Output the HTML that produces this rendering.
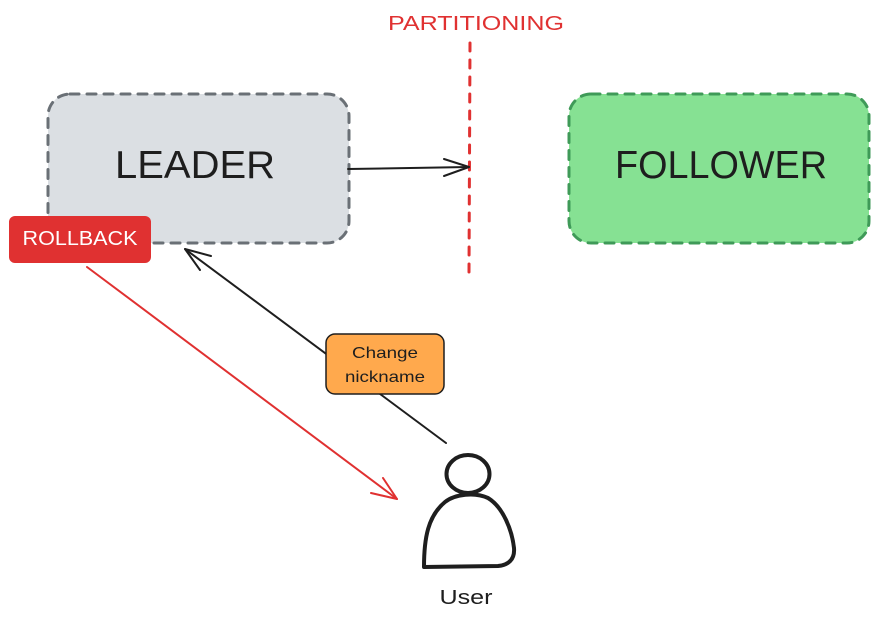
<!DOCTYPE html>
<html>
<head>
<meta charset="utf-8">
<style>
  html, body { margin: 0; padding: 0; background: #ffffff; }
  body { width: 879px; height: 633px; overflow: hidden; }
  svg { display: block; }
  text { font-family: "Liberation Sans", "DejaVu Sans", sans-serif; }
</style>
</head>
<body>
<svg width="879" height="633" viewBox="0 0 879 633" xmlns="http://www.w3.org/2000/svg">
  <rect x="0" y="0" width="879" height="633" fill="#ffffff"/>

  <!-- Partition label and line -->
  <text x="388" y="30" font-size="20" fill="#e03131" textLength="176" lengthAdjust="spacingAndGlyphs">PARTITIONING</text>
  <line x1="470" y1="43" x2="469" y2="272" stroke="#e03131" stroke-width="3" stroke-dasharray="8 9" stroke-linecap="round"/>

  <!-- Leader box -->
  <rect x="48" y="94" width="301" height="149" rx="22" ry="22" fill="#dbdfe3" stroke="#6a7076" stroke-width="3" stroke-dasharray="9 8" stroke-linecap="round"/>
  <text x="195" y="178" font-size="39" fill="#1e1e1e" text-anchor="middle" textLength="160" lengthAdjust="spacingAndGlyphs">LEADER</text>

  <!-- Follower box -->
  <rect x="569" y="94" width="300" height="149" rx="22" ry="22" fill="#86e193" stroke="#3f9a58" stroke-width="3" stroke-dasharray="9 8" stroke-linecap="round"/>
  <text x="721" y="178" font-size="39" fill="#1e1e1e" text-anchor="middle" textLength="212" lengthAdjust="spacingAndGlyphs">FOLLOWER</text>

  <!-- Arrow leader -> partition -->
  <line x1="348" y1="169" x2="469" y2="167" stroke="#1e1e1e" stroke-width="2" stroke-linecap="round"/>
  <polyline points="444,159 469,167 444,176" fill="none" stroke="#1e1e1e" stroke-width="2" stroke-linecap="round" stroke-linejoin="round"/>

  <!-- Rollback label -->
  <rect x="9" y="216" width="142" height="47" rx="6" ry="6" fill="#e03131"/>
  <text x="80" y="245" font-size="20" fill="#ffffff" text-anchor="middle" textLength="115" lengthAdjust="spacingAndGlyphs">ROLLBACK</text>

  <!-- Red arrow rollback -> user -->
  <line x1="87" y1="267" x2="397" y2="499" stroke="#e03131" stroke-width="2" stroke-linecap="round"/>
  <polyline points="371,493 397,499 383,478" fill="none" stroke="#e03131" stroke-width="2" stroke-linecap="round" stroke-linejoin="round"/>

  <!-- Black arrow user -> leader -->
  <line x1="446" y1="443" x2="185" y2="249" stroke="#1e1e1e" stroke-width="2" stroke-linecap="round"/>
  <polyline points="211,256 185,249 200,270" fill="none" stroke="#1e1e1e" stroke-width="2" stroke-linecap="round" stroke-linejoin="round"/>

  <!-- Change nickname label -->
  <rect x="326" y="334" width="118" height="60" rx="9" ry="9" fill="#ffa94d" stroke="#1e1e1e" stroke-width="1.5"/>
  <text x="385" y="358" font-size="16" fill="#1e1e1e" text-anchor="middle" textLength="66" lengthAdjust="spacingAndGlyphs">Change</text>
  <text x="385" y="382" font-size="16" fill="#1e1e1e" text-anchor="middle" textLength="80" lengthAdjust="spacingAndGlyphs">nickname</text>

  <!-- User icon -->
  <ellipse cx="468" cy="474" rx="21.5" ry="19" fill="none" stroke="#1e1e1e" stroke-width="4"/>
  <path d="M424,567 C424,538 428,516 445,502 C455,494 475,492 488,498 C503,507 512,530 514,548 C515,560 508,565 498,566 L424,567 Z" fill="none" stroke="#1e1e1e" stroke-width="4" stroke-linejoin="round"/>
  <text x="466" y="604" font-size="20" fill="#1e1e1e" text-anchor="middle" textLength="53" lengthAdjust="spacingAndGlyphs">User</text>
</svg>
</body>
</html>
